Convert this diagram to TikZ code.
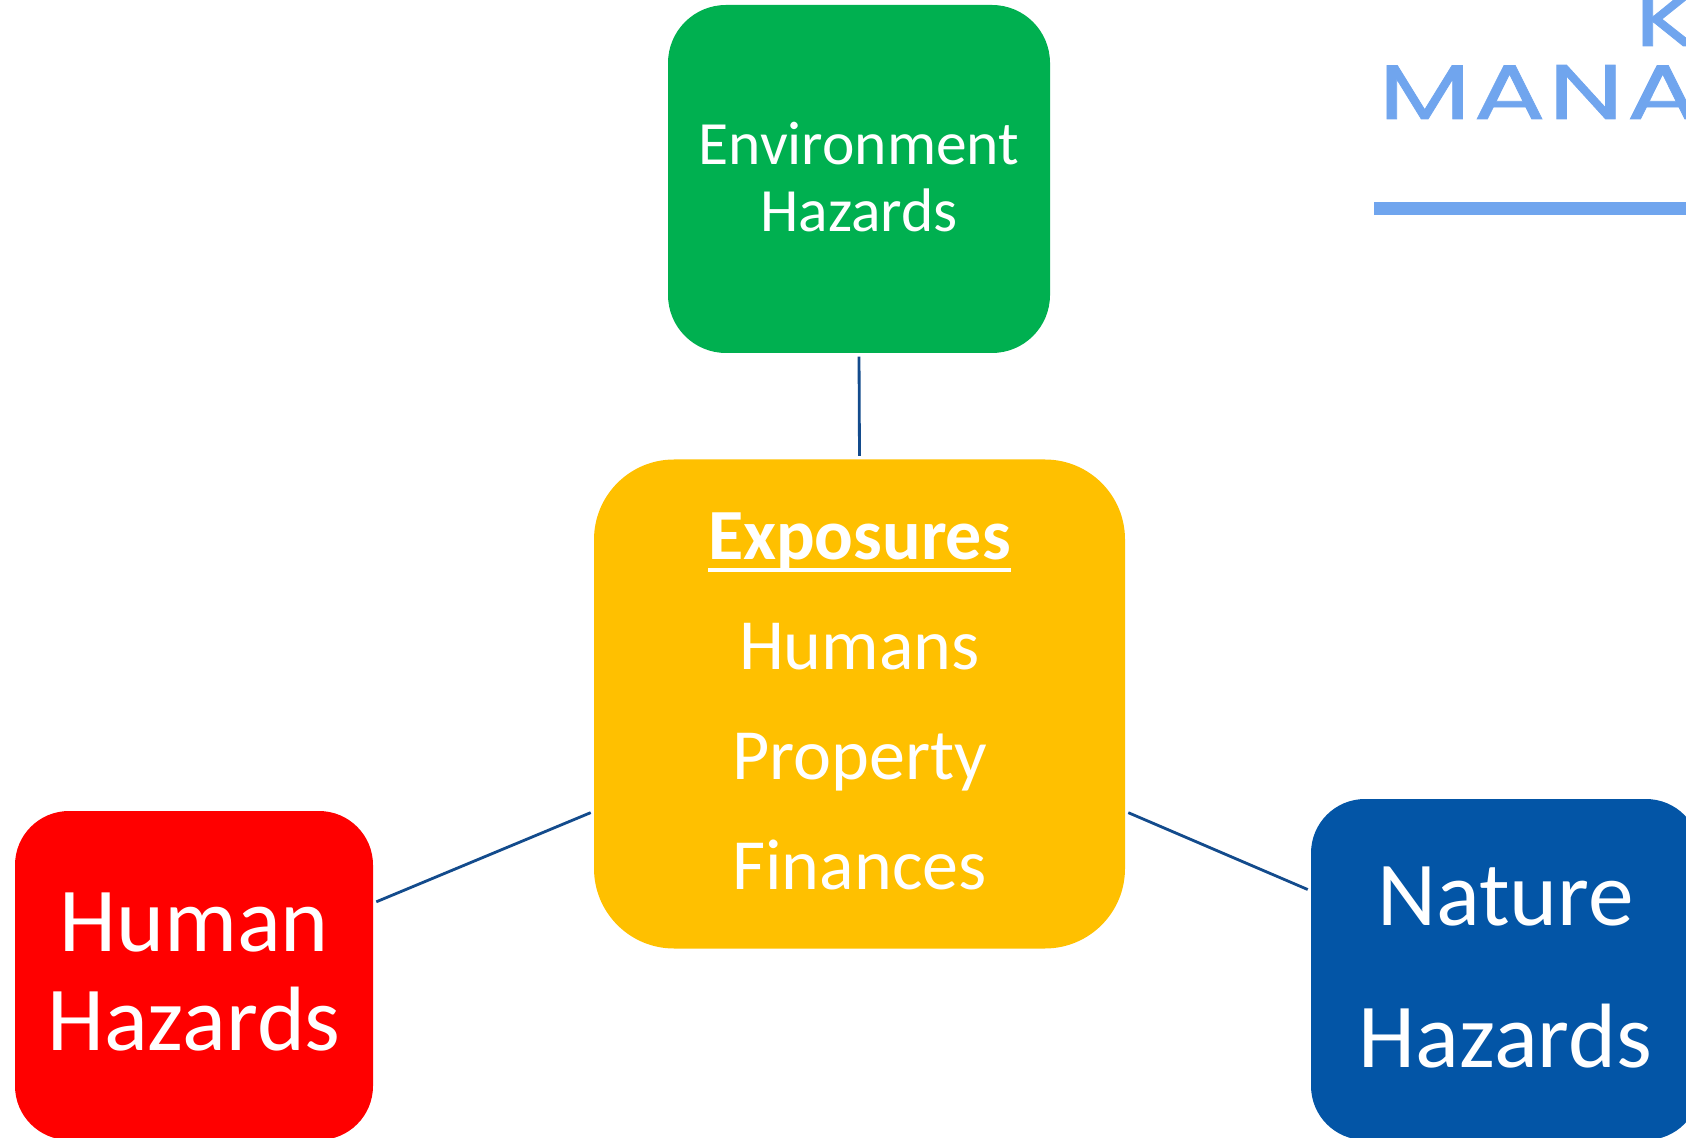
\documentclass[tikz,border=0pt]{standalone}
\usepackage{fontspec}
\setmainfont{Carlito}
\newfontfamily\logofont[FakeStretch=1.38, FakeBold=1, LetterSpace=4]{Poppins}
\usetikzlibrary{positioning}
\definecolor{envgreen}{HTML}{00B050}
\definecolor{expoyellow}{HTML}{FFC000}
\definecolor{humanred}{HTML}{FF0000}
\definecolor{natureblue}{HTML}{0355A6}
\definecolor{linkblue}{HTML}{134B8C}
\definecolor{logoblue}{HTML}{70A5EE}
\newcommand{\lowline}[1]{\sbox0{#1}\rlap{\rule[-3.7pt]{\wd0}{1.3pt}}\box0}
\tikzset{hazard/.style={rectangle, rounded corners=0.54cm, text=white, inner sep=0pt, align=center},
    link/.style={linkblue, line width=0.8pt, shorten >=0.8pt, shorten <=0.8pt},
    logotext/.style={logoblue, inner sep=0pt, anchor=base west, font=\logofont\fontsize{22}{22}\selectfont}
}

\begin{document}
\begin{tikzpicture}
            \useasboundingbox (0, 0) rectangle (16.86, -11.38);
            \node[hazard, fill=envgreen, rounded corners=0.58cm, minimum width=3.82cm, minimum height=3.48cm, font=\fontsize{17.5}{19}\selectfont] (environment) at (8.59, -1.79) {Environment\\Hazards\rule[-1.2pt]{0pt}{1.2pt}};
            \node[hazard, fill=expoyellow, rounded corners=0.8cm, minimum width=5.31cm, minimum height=4.89cm, font=\fontsize{20.5}{31.3}\selectfont] (exposures) at (8.595, -7.04) {\lowline{\textbf{Exposures}}\\Humans\\Property\\Finances\rule[-1.7pt]{0pt}{1.7pt}};
            \node[hazard, fill=humanred, minimum width=3.58cm, minimum height=3.29cm, font=\fontsize{26}{28}\selectfont] (human) at (1.94, -9.755) {Human\\Hazards\rule[-2.1pt]{0pt}{2.1pt}};
            \node[hazard, fill=natureblue, minimum width=3.89cm, minimum height=3.41cm, font=\fontsize{26}{40.4}\selectfont] (nature) at (15.055, -9.695) {Nature\\Hazards\rule[-1.5pt]{0pt}{1.5pt}};
            \node[logotext] (logomana) at (13.78, -1.19) {MANA};
            \node[logotext] (logok) at (16.34, -0.46) {K};
            \node[fill=logoblue, inner sep=0pt, minimum width=3.13cm, minimum height=0.13cm, anchor=north west] (logobar) at (13.73, -2.01) {};
            \draw[link] (environment.south) to (exposures.north);
            \draw[link] (human.22.9) to (exposures.202.3);
            \draw[link] (exposures.338.5) to (nature.158.1);
        \end{tikzpicture}
\end{document}
